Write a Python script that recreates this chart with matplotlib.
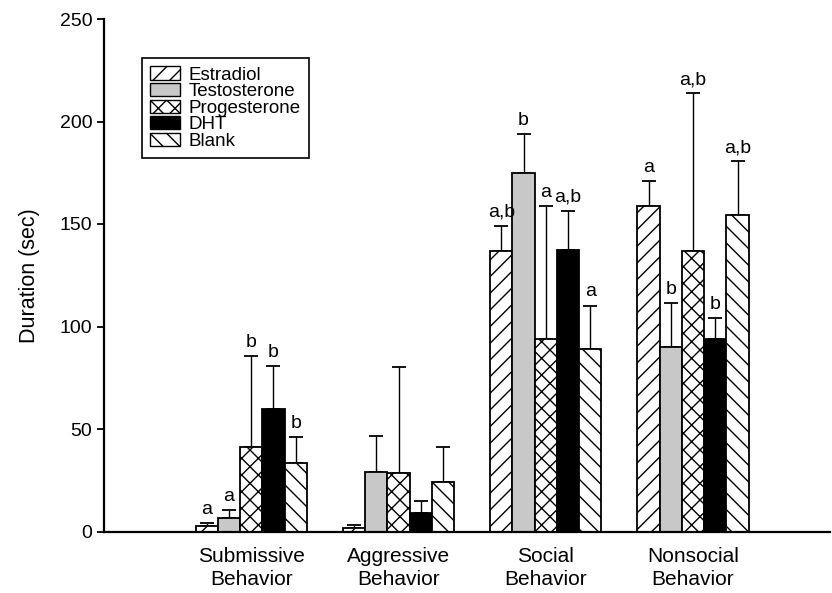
import matplotlib
matplotlib.use("Agg")
import matplotlib.pyplot as plt
import numpy as np
from matplotlib.patches import Patch

plt.rcParams['font.family'] = ['Liberation Sans', 'DejaVu Sans']
plt.rcParams['hatch.linewidth'] = 1.0

categories = ["Submissive\nBehavior", "Aggressive\nBehavior", "Social\nBehavior", "Nonsocial\nBehavior"]
series = ["Estradiol", "Testosterone", "Progesterone", "DHT", "Blank"]

estradiol = [2.5, 1.8, 136.8, 158.8]
testosterone = [6.5, 29.0, 174.9, 90.1]
progesterone = [41.1, 28.7, 93.8, 137.0]
dht = [59.9, 9.0, 137.3, 94.0]
blank = [33.4, 24.0, 89.2, 154.2]

estradiol_err = [1.5, 1.5, 12.4, 12.3]
testosterone_err = [4.0, 17.6, 19.0, 21.2]
progesterone_err = [44.5, 51.7, 64.8, 76.8]
dht_err = [21.0, 6.0, 19.0, 10.3]
blank_err = [12.5, 17.0, 21.0, 26.4]

estradiol_sig = ["a", "", "a,b", "a"]
testosterone_sig = ["a", "", "b", "b"]
progesterone_sig = ["b", "", "a", "a,b"]
dht_sig = ["b", "", "a,b", "b"]
blank_sig = ["b", "", "a", "a,b"]

values = [estradiol, testosterone, progesterone, dht, blank]
errors = [estradiol_err, testosterone_err, progesterone_err, dht_err, blank_err]
sigs = [estradiol_sig, testosterone_sig, progesterone_sig, dht_sig, blank_sig]
styles = [
    dict(facecolor="white", hatch="//"),
    dict(facecolor="#c8c8c8", hatch=None),
    dict(facecolor="white", hatch="xx"),
    dict(facecolor="black", hatch=None),
    dict(facecolor="white", hatch="\\\\"),
]

fig = plt.figure(figsize=(8.32, 5.93), dpi=100)
ax = fig.add_axes([104/832, 1-531.5/593, (830-104)/832, (531.5-19)/593])

x = np.arange(len(categories))
w = 0.151
for i, (vals, errs, sg, st) in enumerate(zip(values, errors, sigs, styles)):
    pos = x + (i - 2) * w
    ax.bar(pos, vals, width=w, edgecolor="black", linewidth=1.3, label=series[i], zorder=2, **st)
    ax.errorbar(pos, vals, yerr=[np.zeros(len(vals)), errs], fmt="none", ecolor="black",
                elinewidth=1.0, capsize=5, capthick=1.3, zorder=1)
    for p, v, e, s in zip(pos, vals, errs, sg):
        if s:
            ax.text(p, v + e + 2.5, s, ha="center", va="bottom", fontsize=14)

ax.set_xlim(-1.0, 3.93)
ax.set_ylim(0, 250)
ax.set_yticks([0, 50, 100, 150, 200, 250])
ax.set_xticks(x)
ax.set_xticklabels(categories, fontsize=15, linespacing=1.3)
ax.tick_params(axis="x", length=0, pad=11)
ax.tick_params(axis="y", labelsize=14, length=5, width=1.3, direction="out")
ax.set_ylabel("Duration (sec)", fontsize=15.5, labelpad=14)
for side in ["top", "right"]:
    ax.spines[side].set_visible(False)
for side in ["left", "bottom"]:
    ax.spines[side].set_linewidth(1.6)

handles = [Patch(edgecolor="black", linewidth=1.0, label=series[i], **styles[i]) for i in range(5)]
leg = ax.legend(handles=handles, loc="upper left", bbox_to_anchor=(0.052, 0.924), fontsize=13.5,
                frameon=True, fancybox=False, edgecolor="black", framealpha=1,
                handlelength=1.6, handleheight=0.7, handletextpad=0.45, labelspacing=-0.03,
                borderpad=0.45, borderaxespad=0)
leg.get_frame().set_linewidth(1.2)

fig.savefig("out.png", dpi=100)
